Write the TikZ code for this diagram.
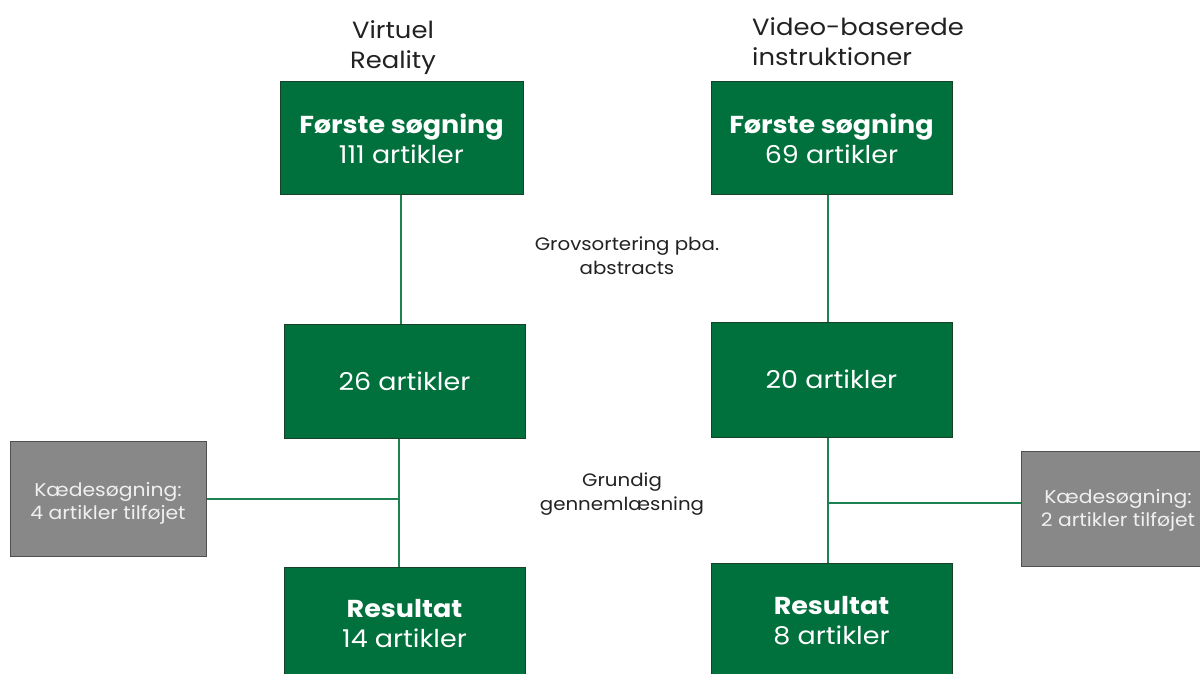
\documentclass[tikz,border=0pt]{standalone}
\usepackage{fontspec}
\setmainfont[FakeStretch=1.1]{Poppins}
\definecolor{boxgreen}{RGB}{0,112,60}
\definecolor{boxedge}{RGB}{25,65,40}
\definecolor{grayfill}{RGB}{136,136,136}
\definecolor{grayedge}{RGB}{80,80,80}
\definecolor{linegreen}{RGB}{30,130,80}
\definecolor{txt}{RGB}{34,34,34}
\definecolor{graytxt}{RGB}{240,240,240}
\begin{document}
\begin{tikzpicture}[x=1pt,y=-1pt,
  gbox/.style={draw=boxedge, line width=1pt, fill=boxgreen, text=white, align=center,
    font=\fontsize{24.5}{30}\selectfont, inner sep=0pt},
  graybox/.style={draw=grayedge, line width=1pt, fill=grayfill, inner sep=0pt,
    minimum width=196pt, minimum height=115pt},
  graytext/.style={text=graytxt, align=center, font=\fontsize{18.5}{23.5}\selectfont, inner sep=0pt},
  title/.style={text=txt, font=\fontsize{23.5}{30}\selectfont, inner sep=0pt},
  note/.style={text=txt, align=center, font=\fontsize{18}{24}\selectfont, inner sep=0pt},
  link/.style={draw=linegreen, line width=1.6pt}]
\useasboundingbox (0,0) rectangle (1200,674);
\clip (0,0) rectangle (1200,674);
\fill[white] (0,0) rectangle (1200,674);

% titles
\node[title, align=center] (t1) at (393,48) {Virtuel\\Reality};
\node[title, align=left, anchor=west] (t2) at (752,42) {Video-baserede\\instruktioner};

% left column
\node[gbox, minimum width=243pt, minimum height=113pt] (vr1) at (401.5,138.5) {\textbf{Første søgning}\\111 artikler};
\node[gbox, minimum width=241pt, minimum height=114pt] (vr2) at (404.5,381) {26 artikler};
\node[gbox, minimum width=241pt, minimum height=114pt] (vr3) at (404.5,624) {\textbf{Resultat}\\14 artikler};
\node[graybox] (g1) at (108,498.5) {};
\node[graytext] (g1t) at ([yshift=-5pt]g1.center) {Kædesøgning:\\4 artikler tilføjet};

% right column
\node[gbox, minimum width=241pt, minimum height=113pt] (vi1) at (831.5,138.5) {\textbf{Første søgning}\\69 artikler};
\node[gbox, minimum width=241pt, minimum height=115pt] (vi2) at (831.5,379.5) {20 artikler};
\node[gbox, minimum width=241pt, minimum height=116pt] (vi3) at (831.5,621) {\textbf{Resultat}\\8 artikler};
\node[graybox, minimum width=184pt] (g2) at (1113,508.5) {};
\node[graytext] (g2t) at ([xshift=5pt,yshift=-2pt]g2.center) {Kædesøgning:\\2 artikler tilføjet};

% notes
\node[note] (n1) at (627,256) {Grovsortering pba.\\abstracts};
\node[note] (n2) at (622,494) {Grundig\\gennemlæsning};

% connectors
\coordinate (j1) at (399,499);
\coordinate (j2) at (828,503);
\draw[link] (vr1.south -| 401,0) -- (vr2.north -| 401,0);
\draw[link] (vr2.south -| j1) -- (vr3.north -| j1);
\draw[link] (g1.east |- j1) -- (j1);
\draw[link] (vi1.south -| 828,0) -- (vi2.north -| 828,0);
\draw[link] (vi2.south -| j2) -- (vi3.north -| j2);
\draw[link] (j2) -- (g2.west |- j2);
\end{tikzpicture}
\end{document}
